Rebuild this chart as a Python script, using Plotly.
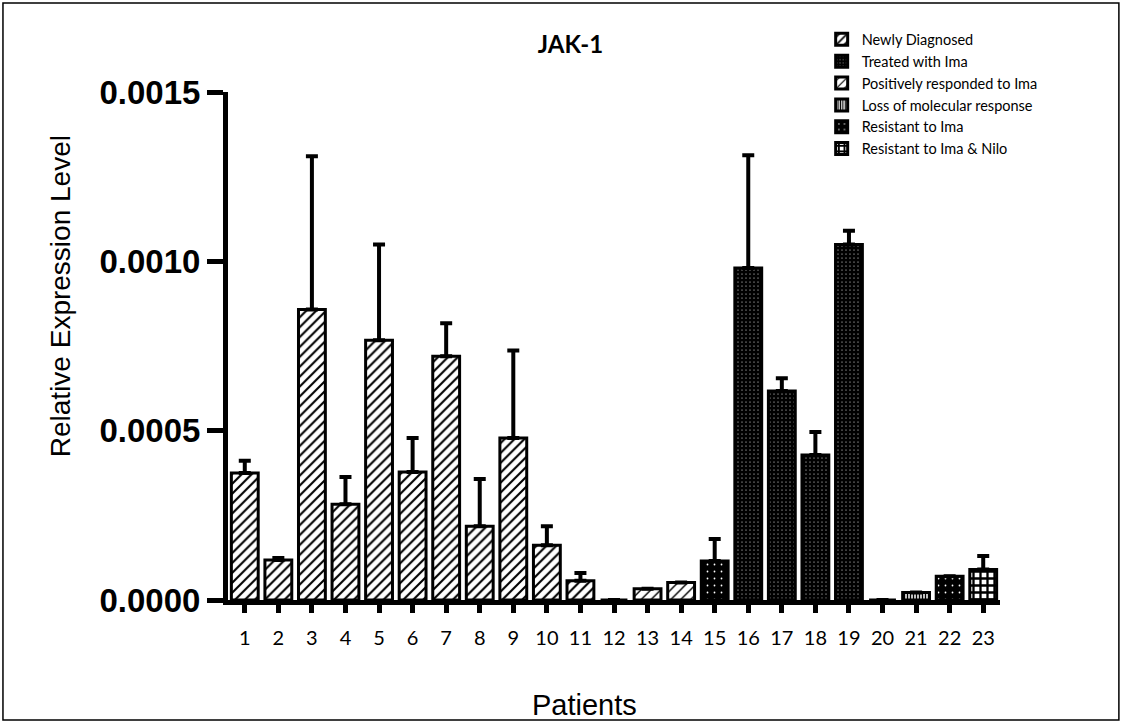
import plotly.graph_objects as go

patients = list(range(1, 24))
tick_labels = [str(p) for p in patients]
values = [0.000375, 0.000118, 0.000858, 0.000283, 0.000767, 0.000378, 0.000720, 0.000218,
          0.000478, 0.000162, 0.000057, 0.0, 0.000033, 0.000052, 0.000115, 0.000980,
          0.000617, 0.000428, 0.001050, 0.0, 0.000022, 0.000070, 0.000090]
errors = [0.000036, 0.000006, 0.000452, 0.000080, 0.000283, 0.000100, 0.000097, 0.000139,
          0.000259, 0.000056, 0.000023, 0.0, 0.0, 0.0, 0.000065, 0.000333,
          0.000038, 0.000068, 0.000040, 0.0, 0.0, 0.0, 0.000040]
groups = ["Newly Diagnosed"] * 11 + ["Positively responded to Ima"] * 3 + \
         ["Resistant to Ima"] + ["Treated with Ima"] * 4 + \
         ["Loss of molecular response"] * 2 + ["Resistant to Ima"] + ["Resistant to Ima & Nilo"]

legend_order = ["Newly Diagnosed", "Treated with Ima", "Positively responded to Ima",
                "Loss of molecular response", "Resistant to Ima", "Resistant to Ima & Nilo"]

patterns = {
    "Newly Diagnosed": dict(shape="/", bgcolor="white", fgcolor="black", size=7, solidity=0.3),
    "Treated with Ima": dict(shape=".", bgcolor="black", fgcolor="white", size=4, solidity=0.06),
    "Positively responded to Ima": dict(shape="/", bgcolor="white", fgcolor="black", size=7, solidity=0.2),
    "Loss of molecular response": dict(shape="|", bgcolor="white", fgcolor="black", size=3, solidity=0.5),
    "Resistant to Ima": dict(shape=".", bgcolor="black", fgcolor="white", size=7, solidity=0.05),
    "Resistant to Ima & Nilo": dict(shape="+", bgcolor="white", fgcolor="black", size=7, solidity=0.55),
}

fig = go.Figure()
for g in legend_order:
    idx = [i for i, gg in enumerate(groups) if gg == g]
    fig.add_trace(go.Bar(
        x=[patients[i] for i in idx],
        y=[values[i] for i in idx],
        name=g,
        width=0.8,
        marker=dict(color="white" if patterns[g]["bgcolor"] == "white" else "black",
                    line=dict(color="black", width=3),
                    pattern=dict(fillmode="replace", **patterns[g])),
        error_y=dict(type="data", symmetric=False,
                     array=[errors[i] for i in idx],
                     arrayminus=[0] * len(idx),
                     color="black", thickness=4, width=6),
    ))

fig.update_layout(
    width=1122, height=724,
    margin=dict(l=228, r=122, t=92, b=124),
    paper_bgcolor="white", plot_bgcolor="white",
    barmode="overlay",
    showlegend=True,
    font=dict(family="Liberation Sans, Arial", color="black"),
    title=dict(text="<b>JAK-1</b>", x=0.5085, xanchor="center", y=0.938, yanchor="middle",
               font=dict(family="Lato", size=24, color="black")),
    legend=dict(x=0.769, y=1.135, xanchor="left", yanchor="top",
                font=dict(family="Lato", size=14.5, color="black"),
                bgcolor="rgba(0,0,0,0)", traceorder="normal", itemwidth=30),
    xaxis=dict(range=[0.5, 23.5], tickmode="array", tickvals=patients, ticktext=tick_labels,
               showline=True, linecolor="black", linewidth=5, ticks="outside",
               ticklen=8, tickwidth=5, tickcolor="black", showgrid=False, zeroline=False,
               tickfont=dict(family="Lato", size=20, color="black"), ticklabelstandoff=8),
    yaxis=dict(range=[0, 0.0015], tickmode="array",
               tickvals=[0, 0.0005, 0.0010, 0.0015],
               ticktext=["0.0000", "0.0005", "0.0010", "0.0015"],
               showline=True, linecolor="black", linewidth=5, ticks="outside",
               ticklen=16, tickwidth=5, tickcolor="black", showgrid=False, zeroline=False,
               tickfont=dict(family="Liberation Sans, Arial", size=33, color="black", weight="bold")),
    annotations=[
        dict(text="Relative Expression Level", xref="paper", yref="paper",
             x=-0.2176, y=0.598, textangle=-90, showarrow=False,
             xanchor="center", yanchor="middle",
             font=dict(family="Liberation Sans, Arial", size=28, color="black")),
        dict(text="Patients", xref="paper", yref="paper",
             x=0.462, y=-0.207, showarrow=False, xanchor="center", yanchor="middle",
             font=dict(family="Liberation Sans, Arial", size=29, color="black")),
    ],
    shapes=[dict(type="rect", xref="paper", yref="paper",
                 x0=-0.2915, x1=1.154, y0=-0.236, y1=1.175,
                 line=dict(color="black", width=1.5), fillcolor="rgba(0,0,0,0)", layer="below")],
)

fig.write_html("out.html", config={"displayModeBar": False},
               post_script="document.body.style.margin='0px';")
